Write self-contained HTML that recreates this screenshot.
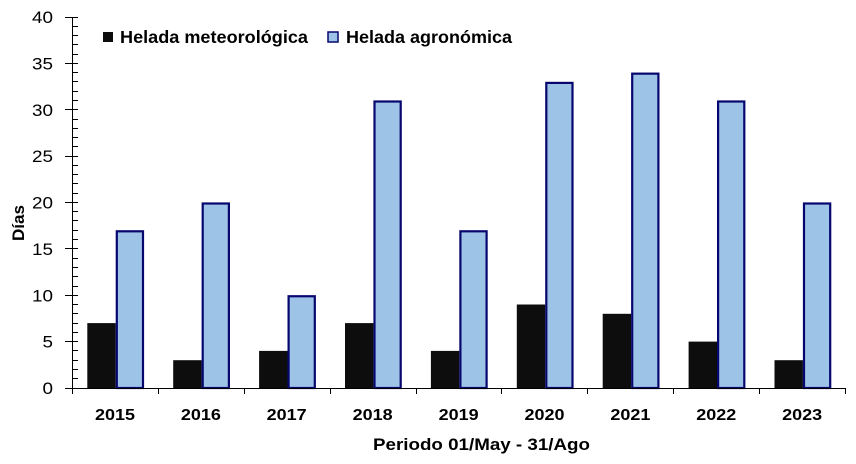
<!DOCTYPE html>
<html><head><meta charset="utf-8"><style>
html,body{margin:0;padding:0;background:#fff;}
svg{display:block;}
text{font-family:"Liberation Sans",Arial,sans-serif;fill:#000;}
</style></head><body>
<svg width="856" height="464" viewBox="0 0 856 464" xmlns="http://www.w3.org/2000/svg">
<rect width="856" height="464" fill="#fff"/>
<!-- bars black -->
<g fill="#0d0d0d">
<rect x="87.3" y="323.1" width="28.4" height="64.9"/>
<rect x="173.2" y="360.2" width="28.4" height="27.8"/>
<rect x="259.1" y="350.9" width="28.4" height="37.1"/>
<rect x="345.0" y="323.1" width="28.4" height="64.9"/>
<rect x="430.9" y="350.9" width="28.4" height="37.1"/>
<rect x="516.8" y="304.5" width="28.4" height="83.5"/>
<rect x="602.7" y="313.8" width="28.4" height="74.2"/>
<rect x="688.6" y="341.6" width="28.4" height="46.4"/>
<rect x="774.5" y="360.2" width="28.4" height="27.8"/>
</g>
<!-- bars blue -->
<g fill="#9dc3e6" stroke="#06066e" stroke-width="2.2">
<rect x="116.8" y="231.3" width="26.2" height="156.7"/>
<rect x="202.7" y="203.5" width="26.2" height="184.5"/>
<rect x="288.6" y="296.25" width="26.2" height="91.75"/>
<rect x="374.5" y="101.5" width="26.2" height="286.5"/>
<rect x="460.4" y="231.3" width="26.2" height="156.7"/>
<rect x="546.3" y="82.9" width="26.2" height="305.1"/>
<rect x="632.2" y="73.65" width="26.2" height="314.35"/>
<rect x="718.1" y="101.5" width="26.2" height="286.5"/>
<rect x="804.0" y="203.5" width="26.2" height="184.5"/>
</g>
<!-- axes -->
<g stroke="#000" stroke-width="1" fill="none">
<path d="M72.5 17 V388.5 H845.5"/>
<path d="M65 17.5H78 M65 63.5H78 M65 109.5H78 M65 156.5H78 M65 202.5H78 M65 248.5H78 M65 295.5H78 M65 341.5H78 M65 388.5H72"/>
<path d="M72 26.5H78 M72 35.5H78 M72 44.5H78 M72 54.5H78 M72 72.5H78 M72 81.5H78 M72 91.5H78 M72 100.5H78 M72 119.5H78 M72 128.5H78 M72 137.5H78 M72 146.5H78 M72 165.5H78 M72 174.5H78 M72 183.5H78 M72 193.5H78 M72 211.5H78 M72 220.5H78 M72 230.5H78 M72 239.5H78 M72 258.5H78 M72 267.5H78 M72 276.5H78 M72 286.5H78 M72 304.5H78 M72 313.5H78 M72 323.5H78 M72 332.5H78 M72 350.5H78 M72 360.5H78 M72 369.5H78 M72 378.5H78"/>
<path d="M72.5 388V394 M158.5 388V394 M244.5 388V394 M330.5 388V394 M416.5 388V394 M501.5 388V394 M587.5 388V394 M673.5 388V394 M759.5 388V394 M845.5 388V394"/>
</g>
<!-- y labels -->
<g font-size="16.5">
<text x="32" y="23" textLength="21" lengthAdjust="spacingAndGlyphs">40</text>
<text x="32" y="69.4" textLength="21" lengthAdjust="spacingAndGlyphs">35</text>
<text x="32" y="115.8" textLength="21" lengthAdjust="spacingAndGlyphs">30</text>
<text x="32" y="162.1" textLength="21" lengthAdjust="spacingAndGlyphs">25</text>
<text x="32" y="208.5" textLength="21" lengthAdjust="spacingAndGlyphs">20</text>
<text x="32" y="254.9" textLength="21" lengthAdjust="spacingAndGlyphs">15</text>
<text x="32" y="301.3" textLength="21" lengthAdjust="spacingAndGlyphs">10</text>
<text x="42.5" y="347.6" textLength="10.5" lengthAdjust="spacingAndGlyphs">5</text>
<text x="42.5" y="394" textLength="10.5" lengthAdjust="spacingAndGlyphs">0</text>
</g>
<!-- x labels -->
<g font-size="16" font-weight="bold">
<text x="95" y="420" textLength="40" lengthAdjust="spacingAndGlyphs">2015</text>
<text x="180.9" y="420" textLength="40" lengthAdjust="spacingAndGlyphs">2016</text>
<text x="266.7" y="420" textLength="40" lengthAdjust="spacingAndGlyphs">2017</text>
<text x="352.6" y="420" textLength="40" lengthAdjust="spacingAndGlyphs">2018</text>
<text x="438.6" y="420" textLength="40" lengthAdjust="spacingAndGlyphs">2019</text>
<text x="524.5" y="420" textLength="40" lengthAdjust="spacingAndGlyphs">2020</text>
<text x="610.4" y="420" textLength="40" lengthAdjust="spacingAndGlyphs">2021</text>
<text x="696.3" y="420" textLength="40" lengthAdjust="spacingAndGlyphs">2022</text>
<text x="782.2" y="420" textLength="40" lengthAdjust="spacingAndGlyphs">2023</text>
</g>
<text x="373" y="450" font-size="17" font-weight="bold" textLength="217" lengthAdjust="spacingAndGlyphs">Periodo 01/May - 31/Ago</text>
<text transform="translate(24,241) rotate(-90)" font-size="16.5" font-weight="bold" textLength="36" lengthAdjust="spacingAndGlyphs">Días</text>
<!-- legend -->
<rect x="103" y="32" width="10" height="10" fill="#0d0d0d"/>
<text x="120" y="43" font-size="17.5" font-weight="bold" textLength="188" lengthAdjust="spacingAndGlyphs">Helada meteorológica</text>
<rect x="328" y="32" width="10" height="10" fill="#9dc3e6" stroke="#06066e" stroke-width="1.5"/>
<text x="346" y="43" font-size="17.5" font-weight="bold" textLength="166" lengthAdjust="spacingAndGlyphs">Helada agronómica</text>
</svg>
</body></html>
